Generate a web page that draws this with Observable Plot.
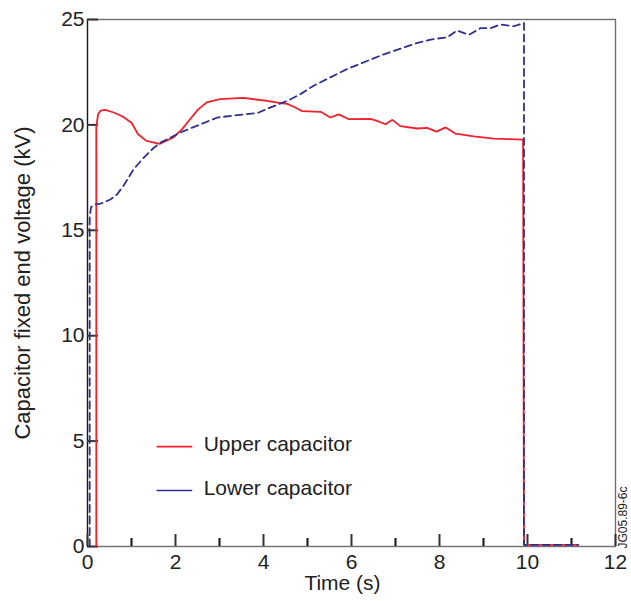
<!DOCTYPE html>
<html>
<head>
<meta charset="utf-8">
<script src="https://cdn.jsdelivr.net/npm/d3@7"></script>
<script src="https://cdn.jsdelivr.net/npm/@observablehq/plot@0.6"></script>
<style>
  html, body { margin: 0; padding: 0; background: #fff; }
  #chart { width: 631px; height: 601px; }
  #chart svg { font-family: 'Liberation Sans', Arial, Helvetica, sans-serif; background: #fff; }
</style>
</head>
<body>
<div id="chart"></div>
<script>
// Upper capacitor (red, solid)
const upperT = [0.2, 0.2, 0.24, 0.3, 0.4, 0.58, 0.8, 1.0, 1.15, 1.34, 1.64, 1.95, 2.15, 2.33, 2.52, 2.71, 3.01, 3.54, 4.08, 4.39, 4.54, 4.7, 4.88, 5.3, 5.52, 5.71, 5.94, 6.43, 6.58, 6.77, 6.93, 7.11, 7.49, 7.72, 7.93, 8.14, 8.36, 8.78, 9.23, 9.9, 9.92, 11.15];
const upperV = [0, 19.9, 20.5, 20.68, 20.71, 20.6, 20.4, 20.1, 19.56, 19.24, 19.1, 19.4, 19.8, 20.27, 20.75, 21.07, 21.22, 21.28, 21.14, 21.03, 21.0, 20.85, 20.65, 20.62, 20.35, 20.5, 20.27, 20.29, 20.19, 20.03, 20.24, 19.94, 19.83, 19.86, 19.68, 19.88, 19.59, 19.46, 19.35, 19.3, 0.08, 0.08];

// Lower capacitor (blue, dashed)
const lowerT = [0.05, 0.05, 0.08, 0.15, 0.3, 0.52, 0.67, 0.83, 1.05, 1.28, 1.51, 1.66, 1.89, 2.11, 2.57, 2.95, 3.4, 3.86, 4.16, 4.54, 4.84, 5.14, 5.9, 6.66, 7.42, 7.8, 8.18, 8.4, 8.67, 8.93, 9.16, 9.39, 9.69, 9.92, 9.92, 11.15];
const lowerV = [0, 15.6, 16.1, 16.22, 16.27, 16.46, 16.7, 17.15, 17.9, 18.45, 18.92, 19.16, 19.4, 19.64, 20.03, 20.35, 20.46, 20.56, 20.83, 21.14, 21.46, 21.86, 22.65, 23.29, 23.84, 24.05, 24.16, 24.48, 24.27, 24.59, 24.59, 24.76, 24.68, 24.84, 0.08, 0.08];

// Axis ticks
const xMajorTicks = [0, 2, 4, 6, 8, 10, 12];
const xMinorTicks = [1, 3, 5, 7, 9, 11];
const yTicks = [0, 5, 10, 15, 20, 25];

// Labels
const seriesNames = ["Upper capacitor", "Lower capacitor"];
const xLabel = "Time (s)";
const yLabel = "Capacitor fixed end voltage (kV)";
const figureId = "JG05.89-6c";

const RED = "#f2202c";
const BLUE = "#30308f";

const W = 631, H = 601, ML = 87, MR = 16, MT = 19, MB = 55;
const plotW = W - ML - MR, plotH = H - MT - MB;

const upper = upperT.map((t, i) => ({t, v: upperV[i]}));
const lower = lowerT.map((t, i) => ({t, v: lowerV[i]}));

const legend = [
  {name: seriesNames[0], color: RED, dash: null, row: 4.74},
  {name: seriesNames[1], color: BLUE, dash: "5,3.5", row: 2.66}
];

const chart = Plot.plot({
  width: W,
  height: H,
  marginLeft: ML,
  marginRight: MR,
  marginTop: MT,
  marginBottom: MB,
  x: {domain: [0, 12]},
  y: {domain: [0, 25]},
  marks: [
    Plot.frame({stroke: "#6e6e6e", strokeWidth: 1.4}),
    Plot.ruleX([0], {stroke: "#1a1a1a", strokeWidth: 1.2}),
    // inward tick marks
    Plot.tickX(xMajorTicks, {insetTop: plotH - 12, stroke: "#333", strokeWidth: 2}),
    Plot.tickX(xMinorTicks, {insetTop: plotH - 8, stroke: "#111", strokeWidth: 2}),
    Plot.tickY(yTicks, {insetRight: plotW - 11, stroke: "#333", strokeWidth: 2}),
    // tick labels
    Plot.axisX(xMajorTicks, {tickSize: 0, tickPadding: 8, fontSize: 21, fill: "#222", label: null}),
    Plot.axisY(yTicks, {tickSize: 0, tickPadding: 3, fontSize: 21, fill: "#222", label: null}),
    Plot.line(upper, {x: "t", y: "v", stroke: RED, strokeWidth: 1.8}),
    Plot.line(lower, {x: "t", y: "v", stroke: BLUE, strokeWidth: 1.8, strokeDasharray: "7,4.5"}),
    // Legend
    Plot.link(legend, {x1: 1.57, x2: 2.38, y1: "row", y2: "row", stroke: "color", strokeWidth: 1.6, strokeDasharray: "dash"}),
    Plot.text(legend, {x: 2.64, y: "row", text: "name", textAnchor: "start", lineAnchor: "middle", fontSize: 21, fill: "#222", dy: -2}),
    // Axis titles
    Plot.text([xLabel], {frameAnchor: "bottom", textAnchor: "middle", lineAnchor: "middle", dx: -9, dy: 37, fontSize: 21, fill: "#222"}),
    Plot.text([yLabel], {frameAnchor: "left", rotate: -90, textAnchor: "middle", lineAnchor: "middle", dx: -65, dy: 0, fontSize: 22, fill: "#222"}),
    Plot.text([figureId], {frameAnchor: "bottom-right", rotate: -90, textAnchor: "start", lineAnchor: "middle", dx: 8, dy: 2, fontSize: 12, fill: "#222"})
  ]
});

document.getElementById("chart").appendChild(chart);
</script>
</body>
</html>
